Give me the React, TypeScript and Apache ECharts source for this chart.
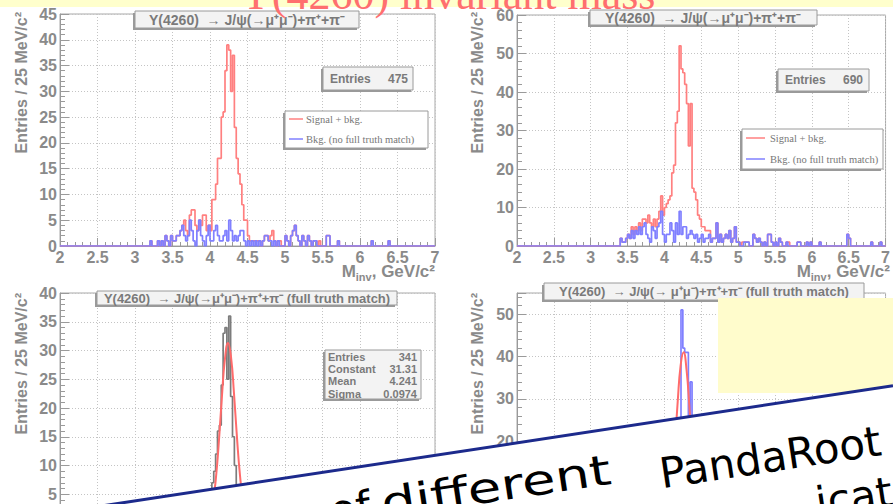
import React, { useEffect, useRef } from 'react';
import * as echarts from 'echarts';

const X_MIN = 2;
const X_MAX = 7;
const BIN = 0.025;

// [bin start (GeV/c^2), entries] ; empty bins are zero
const p1Signal: [number, number][] = [[3.2,1],[3.3,1],[3.35,1],[3.4,2],[3.425,1],[3.475,2],[3.5,1],[3.525,1],[3.55,2],[3.575,2],[3.6,3],[3.625,4],[3.65,5],[3.675,3],[3.7,2],[3.725,6],[3.75,7],[3.775,7],[3.8,4],[3.825,3],[3.85,5],[3.875,4],[3.9,6],[3.925,6],[3.95,3],[3.975,4],[4.0,3],[4.025,9],[4.05,9],[4.075,12],[4.1,17],[4.125,17],[4.15,25],[4.175,26],[4.2,34],[4.225,39],[4.25,38],[4.275,30],[4.3,37],[4.325,23],[4.35,17],[4.375,14],[4.4,12],[4.425,8],[4.45,5],[4.475,5],[4.5,2],[4.525,1],[4.55,1],[4.575,1],[4.6,1],[4.625,1],[4.65,1],[4.7,1],[4.725,2],[4.75,2],[4.775,1],[4.8,2],[4.825,3],[4.85,1],[4.9,1],[4.925,1],[5.0,2],[5.025,1],[5.075,2],[5.1,3],[5.125,4],[5.15,2],[5.175,1],[5.225,2],[5.25,1],[5.3,2],[5.325,1],[5.375,1],[5.4,1],[5.45,1],[5.55,2],[5.575,2],[5.7,1],[6.15,1],[6.375,1]];
const p1Bkg: [number, number][] = [[3.2,1],[3.3,1],[3.35,1],[3.4,2],[3.425,1],[3.475,2],[3.5,1],[3.525,1],[3.55,2],[3.575,2],[3.6,3],[3.625,4],[3.65,2],[3.675,1],[3.7,2],[3.725,5],[3.75,3],[3.775,1],[3.825,3],[3.85,5],[3.875,2],[3.9,1],[3.95,2],[3.975,4],[4.0,1],[4.025,1],[4.05,3],[4.075,4],[4.1,2],[4.125,1],[4.15,1],[4.175,2],[4.2,3],[4.225,1],[4.25,5],[4.275,3],[4.3,1],[4.325,2],[4.35,1],[4.375,2],[4.4,3],[4.425,3],[4.45,1],[4.5,1],[4.55,1],[4.6,1],[4.65,1],[4.7,1],[4.725,2],[4.75,2],[4.775,1],[4.8,1],[4.85,1],[4.9,1],[5.0,2],[5.025,1],[5.075,2],[5.1,3],[5.125,4],[5.15,2],[5.175,1],[5.225,2],[5.25,1],[5.3,2],[5.325,1],[5.375,1],[5.4,1],[5.55,2],[5.575,2],[5.7,1],[6.15,1],[6.375,1]];

const p2Signal: [number, number][] = [[3.4,2],[3.425,1],[3.45,1],[3.475,2],[3.5,3],[3.525,2],[3.55,5],[3.575,3],[3.6,5],[3.625,4],[3.65,6],[3.675,4],[3.7,7],[3.725,7],[3.75,6],[3.775,8],[3.8,6],[3.825,5],[3.85,7],[3.875,5],[3.9,7],[3.925,9],[3.95,13],[3.975,8],[4.0,10],[4.025,11],[4.05,12],[4.075,13],[4.1,19],[4.125,21],[4.15,32],[4.175,35],[4.2,52],[4.225,46],[4.25,45],[4.275,42],[4.3,37],[4.325,26],[4.35,37],[4.375,15],[4.4,14],[4.425,12],[4.45,8],[4.475,7],[4.5,5],[4.525,5],[4.55,4],[4.575,4],[4.6,4],[4.625,1],[4.65,2],[4.675,2],[4.7,6],[4.725,1],[4.75,3],[4.775,1],[4.8,2],[4.825,3],[4.85,2],[4.875,4],[4.9,1],[4.925,2],[4.95,5],[4.975,1],[5.0,1],[5.05,1],[5.075,1],[5.1,1],[5.125,1],[5.2,3],[5.225,2],[5.25,1],[5.275,2],[5.3,1],[5.35,1],[5.4,3],[5.425,3],[5.45,1],[5.5,1],[5.55,2],[5.575,1],[5.65,1],[5.675,1],[5.8,1],[5.825,1],[5.925,1],[5.975,1],[6.1,1],[6.475,3],[6.5,2],[6.8,1],[6.925,1]];
const p2Bkg: [number, number][] = [[3.4,2],[3.425,1],[3.45,1],[3.475,2],[3.5,3],[3.525,2],[3.55,4],[3.575,2],[3.6,4],[3.625,3],[3.65,5],[3.675,3],[3.7,5],[3.725,6],[3.75,3],[3.775,2],[3.8,1],[3.825,5],[3.85,4],[3.875,2],[3.9,5],[3.925,6],[3.95,9],[3.975,3],[4.0,1],[4.025,3],[4.05,3],[4.075,6],[4.1,4],[4.125,1],[4.15,6],[4.175,3],[4.2,9],[4.225,3],[4.25,5],[4.275,5],[4.3,2],[4.325,3],[4.35,4],[4.375,3],[4.4,2],[4.425,3],[4.45,1],[4.475,2],[4.5,3],[4.525,1],[4.55,2],[4.575,2],[4.6,3],[4.625,1],[4.65,2],[4.675,2],[4.7,6],[4.725,1],[4.75,3],[4.775,1],[4.8,2],[4.825,3],[4.85,2],[4.875,4],[4.9,1],[4.925,2],[4.95,5],[4.975,1],[5.0,1],[5.075,1],[5.1,1],[5.125,1],[5.2,3],[5.225,2],[5.25,1],[5.275,2],[5.3,1],[5.35,1],[5.4,3],[5.425,3],[5.45,1],[5.5,1],[5.55,2],[5.575,1],[5.65,1],[5.8,1],[5.825,1],[5.925,1],[5.975,1],[6.1,1],[6.475,3],[6.5,2],[6.8,1],[6.925,1]];

const p3Truth: [number, number][] = [[3.95,1],[3.975,2],[4.0,4],[4.025,7],[4.05,9],[4.075,12],[4.1,16],[4.125,17],[4.15,24],[4.175,33],[4.2,34],[4.225,25],[4.25,36],[4.275,22],[4.3,15],[4.325,10],[4.35,6],[4.375,4],[4.4,2],[4.425,1]];
const p3FitX = [3.96, 4.0, 4.04, 4.08, 4.12, 4.16, 4.2, 4.24, 4.28, 4.32, 4.36, 4.4, 4.44, 4.48, 4.52];
const p3FitY = [0.49, 1.47, 3.72, 7.99, 14.47, 22.2, 28.65, 31.31, 28.9, 22.5, 14.8, 8.27, 3.88, 1.54, 0.52];

const p4Truth: [number, number][] = [[4.075,2],[4.1,4],[4.125,7],[4.15,12],[4.175,17],[4.2,22],[4.225,51],[4.25,42],[4.275,41],[4.3,41],[4.325,20],[4.35,34],[4.375,12],[4.4,6],[4.425,3],[4.45,1]];
const p4FitX = [3.98, 4.02, 4.06, 4.1, 4.14, 4.18, 4.22, 4.26, 4.3, 4.34, 4.38, 4.42, 4.46, 4.5, 4.54];
const p4FitY = [0.53, 1.71, 4.56, 10.2, 18.9, 29.3, 37.9, 41.0, 36.9, 27.8, 17.4, 9.1, 3.98, 1.45, 0.44];

const statsP3Labels = ['Entries', 'Constant', 'Mean', 'Sigma'];
const statsP3Values = ['341', '31.31', '4.241', '0.0974'];

function stepData(pairs: [number, number][]) {
  const n = Math.round((X_MAX - X_MIN) / BIN);
  const counts = new Array(n).fill(0);
  for (const [x, c] of pairs) counts[Math.round((x - X_MIN) / BIN)] = c;
  const data: number[][] = counts.map((c, i) => [+(X_MIN + i * BIN).toFixed(3), c]);
  data.push([X_MAX, counts[n - 1]]);
  return data;
}

const GRAY = '#8a8a8a';
const RED = '#ff8080';
const BLUE = '#8080ff';
const SANS = 'Liberation Sans';

function txt(x: number, y: number, text: string, o: any = {}, z = 12, rotation = 0) {
  return {
    type: 'text', x, y, z, rotation, silent: true,
    style: { text, fill: '#7a7a7a', fontFamily: SANS, fontWeight: 'bold', fontSize: 13, align: 'left', verticalAlign: 'middle', ...o },
  };
}
function box(x: number, y: number, w: number, h: number, fill: string) {
  return [
    { type: 'rect', z: 10, silent: true, shape: { x: x - 2, y: y + 2, width: w, height: h }, style: { fill: '#9a9a9a' } },
    { type: 'rect', z: 11, silent: true, shape: { x, y, width: w, height: h }, style: { fill, stroke: '#9a9a9a', lineWidth: 1 } },
  ];
}
function line(x1: number, y1: number, x2: number, y2: number, color: string, w = 1.5, z = 12) {
  return { type: 'line', z, silent: true, shape: { x1, y1, x2, y2 }, style: { stroke: color, lineWidth: w } };
}

export default function App() {
  const ref = useRef<HTMLDivElement>(null);
  useEffect(() => {
    const chart = echarts.init(ref.current!, null, { renderer: 'svg' });
    const grids = [
      { left: 60, top: 14, width: 375, height: 232 },
      { left: 517, top: 15, width: 370, height: 231 },
      { left: 60, top: 293, width: 375, height: 230 },
      { left: 517, top: 293, width: 370, height: 233 },
    ];
    const yMax = [45, 60, 40, 55];
    const yStep = [5, 10, 5, 10];
    const axisLabel = { color: GRAY, fontFamily: SANS, fontWeight: 'bold', fontSize: 16 };
    const split = { show: true, lineStyle: { color: '#c4c4c4', type: [1, 2], width: 1 } };

    const xAxis = grids.map((_, i) => ({
      type: 'value', gridIndex: i, min: X_MIN, max: X_MAX, interval: 0.5,
      axisLine: { show: true, lineStyle: { color: '#9a9a9a' } },
      axisTick: { show: true, inside: true, length: 8, lineStyle: { color: '#9a9a9a' } },
      minorTick: { show: true, splitNumber: 5, length: 4, lineStyle: { color: '#9a9a9a' } },
      axisLabel: { ...axisLabel, margin: 3 },
      splitLine: split,
    }));
    const yAxis = grids.map((_, i) => ({
      type: 'value', gridIndex: i, min: 0, max: yMax[i], interval: yStep[i],
      axisLine: { show: true, lineStyle: { color: '#9a9a9a' } },
      axisTick: { show: true, inside: true, length: 9, lineStyle: { color: '#9a9a9a' } },
      minorTick: { show: true, splitNumber: 5, length: 5, lineStyle: { color: '#9a9a9a' } },
      axisLabel: { ...axisLabel, margin: 3, showMaxLabel: i !== 3 },
      splitLine: split,
    }));

    const hist = (idx: number, pairs: [number, number][], color: string, z: number) => ({
      type: 'line', xAxisIndex: idx, yAxisIndex: idx, step: 'end', showSymbol: false, symbol: 'none',
      data: stepData(pairs), lineStyle: { color, width: 1.7 }, z, silent: true,
    });
    const fit = (idx: number, xs: number[], ys: number[]) => ({
      type: 'line', xAxisIndex: idx, yAxisIndex: idx, smooth: true, showSymbol: false, symbol: 'none',
      data: xs.map((x, i) => [x, ys[i]]), lineStyle: { color: '#ff6b6b', width: 2 }, z: 5, silent: true,
    });

    const series = [
      hist(0, p1Signal, RED, 3), hist(0, p1Bkg, BLUE, 4),
      hist(1, p2Signal, RED, 3), hist(1, p2Bkg, BLUE, 4),
      hist(2, p3Truth, '#7c7c7c', 3), fit(2, p3FitX, p3FitY),
      hist(3, p4Truth, BLUE, 3), fit(3, p4FitX, p4FitY),
    ];

    const yTitle = 'Entries / 25 MeV/c²';
    const xTitleRich = {
      m: { fontSize: 17, fontWeight: 'bold', fontFamily: SANS, fill: GRAY, lineHeight: 22 },
      s: { fontSize: 11, fontWeight: 'bold', fontFamily: SANS, fill: GRAY, lineHeight: 10, verticalAlign: 'bottom' },
    };
    const decay = 'Y(4260)  → J/ψ(→μ⁺μ⁻)+π⁺+π⁻';
    const fsBan = 42;
    const rot = 0.15;
    const banStyle = { fontFamily: 'DejaVu Sans', fontSize: fsBan, fill: '#000', verticalAlign: 'middle' };
    const yT = { fontSize: 16, fill: GRAY, align: 'right' };

    const graphic: any[] = [
      { type: 'rect', z: 20, silent: true, shape: { x: 0, y: 0, width: 893, height: 7 }, style: { fill: '#ffffcc' } },
      txt(240, 9 - 0.34 * 44, 'Y(4260) invariant mass', { fontFamily: 'Liberation Serif', fontWeight: 'normal', fontSize: 44, fill: '#ff6f6f' }, 21),
      // axis titles
      txt(21, 12, yTitle, yT, 12, Math.PI / 2),
      txt(477, 12, yTitle, yT, 12, Math.PI / 2),
      txt(21, 293, yTitle, yT, 12, Math.PI / 2),
      txt(477, 293, yTitle, yT, 12, Math.PI / 2),
      { type: 'text', x: 435, y: 271, z: 12, silent: true, style: { text: '{m|M}{s|inv}{m|, GeV/c²}', rich: xTitleRich, align: 'right', verticalAlign: 'middle' } },
      { type: 'text', x: 890, y: 271, z: 12, silent: true, style: { text: '{m|M}{s|inv}{m|, GeV/c²}', rich: xTitleRich, align: 'right', verticalAlign: 'middle' } },
      // panel 1
      ...box(135, 11, 224, 17, '#f3f3f3'),
      txt(247, 19.5, decay, { fontSize: 14, align: 'center' }),
      ...box(323, 67, 90, 23, '#f3f3f3'),
      txt(330, 78.5, 'Entries', { fontSize: 12 }), txt(408, 78.5, '475', { fontSize: 12, align: 'right' }),
      ...box(285, 111, 143, 37, '#ffffff'),
      line(289, 119, 303, 119, RED), txt(306, 119, 'Signal + bkg.', { fontFamily: 'Liberation Serif', fontWeight: 'normal', fontSize: 10.5, fill: '#777' }),
      line(289, 139, 303, 139, BLUE), txt(306, 139, 'Bkg. (no full truth match)', { fontFamily: 'Liberation Serif', fontWeight: 'normal', fontSize: 10.5, fill: '#777' }),
      // panel 2
      ...box(590, 10, 227, 15, '#f3f3f3'),
      txt(703, 17.5, decay, { fontSize: 14, align: 'center' }),
      ...box(778, 69, 91, 22, '#f3f3f3'),
      txt(785, 80, 'Entries', { fontSize: 12 }), txt(863, 80, '690', { fontSize: 12, align: 'right' }),
      ...box(742, 129, 141, 40, '#ffffff'),
      line(746, 138, 765, 138, RED), txt(770, 138, 'Signal + bkg.', { fontFamily: 'Liberation Serif', fontWeight: 'normal', fontSize: 10.5, fill: '#777' }),
      line(746, 159, 765, 159, BLUE), txt(770, 159, 'Bkg. (no full truth match)', { fontFamily: 'Liberation Serif', fontWeight: 'normal', fontSize: 10.5, fill: '#777' }),
      // panel 3
      ...box(97, 291, 300, 14, '#f3f3f3'),
      txt(247, 298, decay + ' (full truth match)', { fontSize: 13, align: 'center' }),
      ...box(325, 350, 96, 49, '#f3f3f3'),
      ...statsP3Labels.map((s, i) => txt(328, 357 + i * 12.2, s, { fontSize: 11 })),
      ...statsP3Values.map((s, i) => txt(417, 357 + i * 12.2, s, { fontSize: 11, align: 'right' })),
      // panel 4
      ...box(544, 283, 320, 17, '#f3f3f3'),
      txt(704, 291.5, 'Y(4260)  → J/ψ(→ μ⁺μ⁻)+π⁺+π⁻ (full truth match)', { fontSize: 13, align: 'center' }),
      { type: 'rect', z: 22, silent: true, shape: { x: 718, y: 298, width: 175, height: 95 }, style: { fill: '#fffccc' } },
      // banner
      { type: 'polygon', z: 30, silent: true, shape: { points: [[0, 521.4], [893, 385.7], [893, 560], [0, 560]] }, style: { fill: '#ffffff' } },
      { type: 'line', z: 31, silent: true, shape: { x1: 0, y1: 521.4, x2: 893, y2: 385.7 }, style: { stroke: '#1c2a8c', lineWidth: 3 } },
      {
        type: 'group', x: 662, y: 488, rotation: rot, z: 32, silent: true,
        children: [
          { type: 'text', x: -291, y: -12 - 0.34 * fsBan, z: 32, style: { ...banStyle, text: 'of', align: 'right' } },
          { type: 'text', x: -280, y: -12 - 0.34 * fsBan, scaleX: 1.3, z: 32, style: { ...banStyle, text: 'different', align: 'left' } },
          { type: 'text', x: 0, y: -0.34 * fsBan, z: 32, style: { ...banStyle, text: 'PandaRoot', align: 'left' } },
          { type: 'text', x: 150, y: 52 - 0.34 * fsBan, z: 32, style: { ...banStyle, text: 'icate', align: 'left' } },
        ],
      },
    ];

    chart.setOption({
      animation: false,
      backgroundColor: '#ffffff',
      grid: grids.map((g) => ({ ...g, show: true, borderColor: '#a8a8a8', borderWidth: 1, backgroundColor: 'transparent', containLabel: false })),
      xAxis, yAxis, series, graphic,
    });
    return () => chart.dispose();
  }, []);
  return (
    <div style={{ position: 'fixed', left: 0, top: 0, width: 893, height: 504, overflow: 'hidden', background: '#fff' }}>
      <div ref={ref} style={{ width: 893, height: 560 }} />
    </div>
  );
}
